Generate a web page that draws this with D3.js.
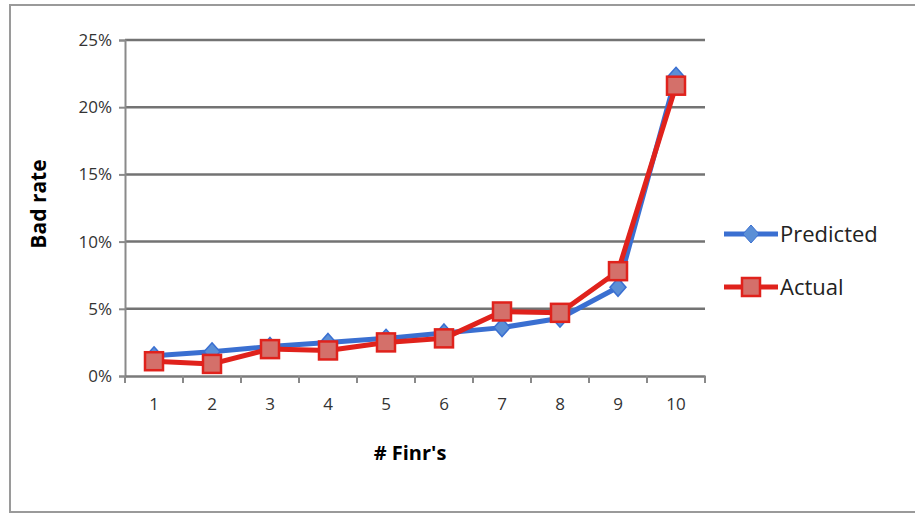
<!DOCTYPE html>
<html>
<head>
<meta charset="utf-8">
<script src="https://cdn.jsdelivr.net/npm/d3@7"></script>
<style>
  body { margin: 0; background: #fff; }
  text { font-family: "Open Sans", "Noto Sans", sans-serif; }
</style>
</head>
<body>
<div id="plot"></div>
<script>
  const categories = ["1", "2", "3", "4", "5", "6", "7", "8", "9", "10"];
  const predicted = [1.5, 1.8, 2.2, 2.5, 2.8, 3.2, 3.6, 4.3, 6.6, 22.3];
  const actual = [1.1, 0.9, 2.0, 1.9, 2.5, 2.8, 4.8, 4.7, 7.8, 21.6];
  const yTicks = [0, 5, 10, 15, 20, 25];

  const w = 915;
  const h = 516;
  const margin = {top: 40, right: 210, bottom: 140, left: 125};
  const innerwidth = w - margin.left - margin.right;
  const innerheight = h - margin.top - margin.bottom;

  const svg = d3.select("div#plot")
      .append("svg")
      .attr("width", w)
      .attr("height", h);

  // outer frame
  svg.append("rect")
      .attr("x", 10).attr("y", 5)
      .attr("width", w - 8).attr("height", h - 9)
      .attr("fill", "white")
      .attr("stroke", "#9a9a9a")
      .attr("stroke-width", 2);

  const xScale = d3.scaleBand()
      .domain(categories)
      .range([0, innerwidth]);

  const yScale = d3.scaleLinear()
      .domain([0, 25])
      .range([innerheight, 0]);

  const g = svg.append("g")
      .attr("transform", `translate(${margin.left}, ${margin.top})`);

  // gridlines
  g.append("g")
      .selectAll("line")
      .data(yTicks.filter(d => d > 0))
      .enter().append("line")
      .attr("x1", 0).attr("x2", innerwidth)
      .attr("y1", d => yScale(d)).attr("y2", d => yScale(d))
      .attr("stroke", "#737373")
      .attr("stroke-width", 2.5);

  // y axis
  const yAxis = d3.axisLeft(yScale)
      .tickValues(yTicks)
      .tickFormat(d => d + "%")
      .tickSize(6)
      .tickPadding(7);
  const ya = g.append("g").call(yAxis);
  ya.select(".domain").attr("stroke", "#8a8a8a").attr("stroke-width", 2);
  ya.selectAll(".tick line").attr("stroke", "#8a8a8a").attr("stroke-width", 2);
  ya.selectAll(".tick text").style("font-size", "17px").attr("fill", "#333");

  // x axis
  const xAxis = d3.axisBottom(xScale).tickSize(0).tickPadding(22);
  const xa = g.append("g")
      .attr("transform", `translate(0, ${innerheight})`)
      .call(xAxis);
  xa.select(".domain").attr("stroke", "#7a7a7a").attr("stroke-width", 2.5);
  xa.selectAll(".tick text").style("font-size", "17px").attr("fill", "#333");
  xa.selectAll(".btick")
      .data(d3.range(categories.length + 1))
      .enter().append("line")
      .attr("x1", i => i * xScale.step()).attr("x2", i => i * xScale.step())
      .attr("y1", 0).attr("y2", 7)
      .attr("stroke", "#8a8a8a")
      .attr("stroke-width", 2);

  const xc = d => xScale(d) + xScale.bandwidth() / 2;

  const line = d3.line()
      .x((d, i) => xc(categories[i]))
      .y(d => yScale(d));

  const diamondPath = "M0,-9L8,0L0,9L-8,0Z";

  // predicted
  g.append("path")
      .datum(predicted)
      .attr("d", line)
      .attr("fill", "none")
      .attr("stroke", "#3a6fd1")
      .attr("stroke-width", 5)
      .attr("stroke-linejoin", "round");

  g.selectAll(".pdot")
      .data(predicted)
      .enter().append("path")
      .attr("d", diamondPath)
      .attr("transform", (d, i) => `translate(${xc(categories[i])}, ${yScale(d)})`)
      .attr("fill", "#5b8fd6")
      .attr("stroke", "#3a6fd1")
      .attr("stroke-width", 1.5);

  // actual
  g.append("path")
      .datum(actual)
      .attr("d", line)
      .attr("fill", "none")
      .attr("stroke", "#e0221c")
      .attr("stroke-width", 5)
      .attr("stroke-linejoin", "round");

  g.selectAll(".adot")
      .data(actual)
      .enter().append("rect")
      .attr("x", (d, i) => xc(categories[i]) - 9)
      .attr("y", d => yScale(d) - 9)
      .attr("width", 18)
      .attr("height", 18)
      .attr("fill", "#d4706a")
      .attr("stroke", "#e0221c")
      .attr("stroke-width", 2.5);

  // axis titles
  svg.append("text")
      .attr("transform", "rotate(-90)")
      .attr("x", -(margin.top + innerheight / 2) + 4)
      .attr("y", 46)
      .attr("text-anchor", "middle")
      .style("font-size", "21px")
      .style("font-weight", "bold")
      .text("Bad rate");

  svg.append("text")
      .attr("x", margin.left + innerwidth / 2 - 5)
      .attr("y", 460)
      .attr("text-anchor", "middle")
      .style("font-size", "20px")
      .style("font-weight", "bold")
      .text("# Finr's");

  // legend
  const legend = [
    {name: "Predicted", color: "#3a6fd1", y: 234},
    {name: "Actual", color: "#e0221c", y: 287}
  ];
  const lg = svg.append("g").selectAll("g")
      .data(legend)
      .enter().append("g")
      .attr("transform", d => `translate(724, ${d.y})`);
  lg.append("line")
      .attr("x1", 0).attr("x2", 54)
      .attr("stroke", d => d.color)
      .attr("stroke-width", 5);
  lg.filter(d => d.name === "Predicted").append("path")
      .attr("d", diamondPath)
      .attr("transform", "translate(27, 0)")
      .attr("fill", "#5b8fd6")
      .attr("stroke", "#3a6fd1");
  lg.filter(d => d.name === "Actual").append("rect")
      .attr("x", 18).attr("y", -9)
      .attr("width", 18).attr("height", 18)
      .attr("fill", "#d4706a")
      .attr("stroke", "#e0221c")
      .attr("stroke-width", 2.5);
  lg.append("text")
      .attr("x", 56)
      .attr("dy", "0.35em")
      .style("font-size", "22px")
      .attr("fill", "#222")
      .text(d => d.name);
</script>
</body>
</html>
